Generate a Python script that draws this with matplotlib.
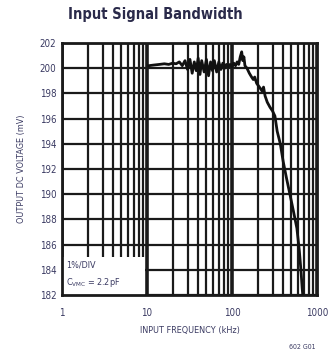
import matplotlib
matplotlib.use("Agg")
import matplotlib.pyplot as plt
from matplotlib.patches import Rectangle

# Measured output DC voltage versus input frequency
freq_khz = [10.5, 12, 14, 16, 18, 20, 22, 24, 26, 28, 30, 32, 34, 36, 38, 40,
            42, 44, 47, 50, 53, 56, 59, 62, 66, 70, 74, 78, 82, 86, 90, 95,
            100, 105, 110, 115, 120, 125, 130, 134, 138, 142, 150, 160, 170,
            178, 185, 195, 210, 225, 235, 245, 260, 280, 300, 320, 340, 370,
            400, 440, 480, 530, 580, 620, 650, 670, 680]
vout_mv = [200.2, 200.25, 200.3, 200.35, 200.3, 200.4, 200.35, 200.5, 200.2,
           200.6, 199.9, 200.7, 199.6, 200.5, 199.8, 200.8, 199.5, 200.6,
           199.7, 200.7, 199.4, 200.5, 199.8, 200.6, 199.7, 200.5, 199.9,
           200.4, 200.0, 200.3, 200.1, 200.3, 200.1, 200.4, 200.2, 200.5,
           200.3, 200.9, 201.3, 200.6, 200.9, 200.2, 200.0, 199.6, 199.3,
           199.1, 199.3, 198.8, 198.5, 198.2, 198.5, 197.8, 197.3, 196.9,
           196.6, 196.2, 195.0, 194.0, 192.6, 191.2, 190.0, 188.6, 187.3,
           185.5, 183.8, 182.5, 182.0]

y_ticks = [182, 184, 186, 188, 190, 192, 194, 196, 198, 200, 202]
x_ticks = [1, 10, 100, 1000]
x_ticklabels = ["1", "10", "100", "1000"]

TXT = "#3a3a62"
FONT = "DejaVu Sans"
STRETCH = "condensed"

fig = plt.figure(figsize=(3.32, 3.54), dpi=100)
ax = fig.add_axes([62 / 332, 59 / 354, 255 / 332, 252 / 354])

ax.set_xscale("log")
ax.set_xlim(1, 1000)
ax.set_ylim(182, 202)

# grid: major decades heavier, minor 2..9 lines
ax.set_xticks(x_ticks)
ax.set_xticklabels(x_ticklabels)
minor = [m * d for d in (1, 10, 100) for m in range(2, 10)]
ax.set_xticks(minor, minor=True)
ax.set_xticklabels([], minor=True)
ax.set_yticks(y_ticks)
ax.grid(True, which="major", axis="x", color="#1a1a1a", lw=2.6)
ax.grid(True, which="minor", axis="x", color="#1a1a1a", lw=1.6)
ax.grid(True, which="major", axis="y", color="#1a1a1a", lw=1.6)
ax.set_axisbelow(True)
ax.tick_params(which="both", length=0, labelsize=7, labelcolor=TXT)
ax.tick_params(axis="x", pad=9)
ax.tick_params(axis="y", pad=4)
for lab in ax.get_xticklabels() + ax.get_yticklabels():
    lab.set_family(FONT)
    lab.set_fontstretch(STRETCH)
for s in ax.spines.values():
    s.set_linewidth(2.0)
    s.set_color("#1a1a1a")

# blank panel behind the annotation
ax.add_patch(Rectangle((0, 0), 0.325, 0.15, transform=ax.transAxes,
                       facecolor="white", edgecolor="none", zorder=1.5))

ax.plot(freq_khz, vout_mv, color="#111111", lw=2.0, zorder=3,
        solid_joinstyle="round")

ax.text(0.015, 0.135, "1%/DIV", transform=ax.transAxes, fontsize=6.5,
        color=TXT, family=FONT, fontstretch=STRETCH, va="top", zorder=4)
ax.text(0.015, 0.075, r"C$_{\mathregular{VMC}}$ = 2.2pF", transform=ax.transAxes,
        fontsize=6.5, color=TXT, family=FONT, fontstretch=STRETCH,
        va="top", zorder=4)

ax.set_xlabel("INPUT FREQUENCY (kHz)", fontsize=6.5, color=TXT, family=FONT,
              fontstretch=STRETCH, labelpad=6)
ax.set_ylabel("OUTPUT DC VOLTAGE (mV)", fontsize=6.5, color=TXT, family=FONT,
              fontstretch=STRETCH, labelpad=10)

fig.text(155 / 332, 1 - 15 / 354, "Input Signal Bandwidth", fontsize=10.5,
         fontweight="bold", color="#2a2a4a", family=FONT, fontstretch=STRETCH,
         ha="center", va="center")
fig.text(302 / 332, 1 - 347 / 354, "602 G01", fontsize=5, color=TXT,
         family=FONT, fontstretch=STRETCH, ha="center", va="center")

fig.savefig("out.png", dpi=100)
